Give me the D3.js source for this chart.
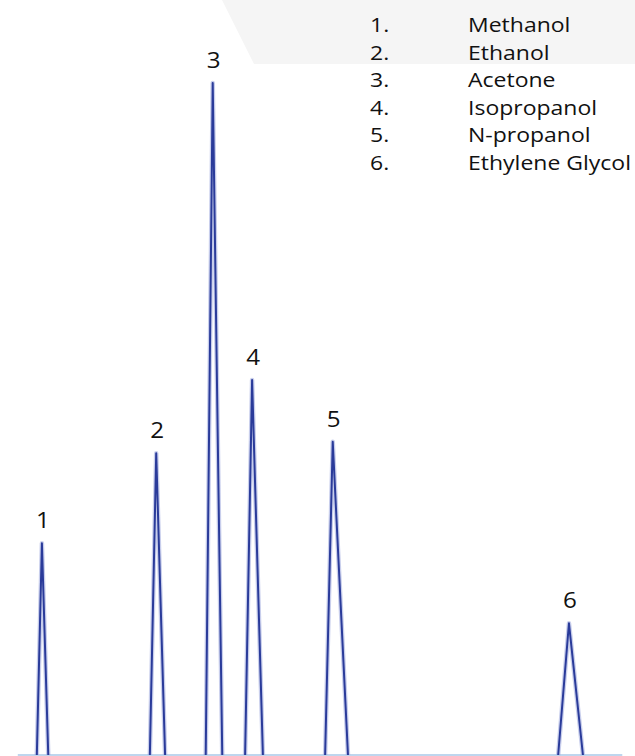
<!DOCTYPE html>
<html>
<head>
<meta charset="utf-8">
<script src="https://cdn.jsdelivr.net/npm/d3@7"></script>
<style>
  body { margin: 0; background: #fff; }
  text { font-family: "Open Sans", "Liberation Sans", sans-serif; fill: #111; }
</style>
</head>
<body>
<div id="plot"></div>
<script>
// Width and height
const w = 635;
const h = 756;

// peak data (retention time in min, relative height in %)
const compounds = ["Methanol", "Ethanol", "Acetone", "Isopropanol", "N-propanol", "Ethylene Glycol"];
const retention = [0.66, 2.46, 3.35, 3.97, 5.24, 8.96];
const peakStart = [0.58, 2.36, 3.24, 3.86, 5.12, 8.79];
const peakEnd = [0.76, 2.60, 3.50, 4.14, 5.48, 9.18];
const heights = [31.5, 44.9, 100, 55.8, 46.6, 19.6];

const peaks = compounds.map((c, i) => ({
  n: i + 1,
  name: c,
  rt: retention[i],
  start: peakStart[i],
  end: peakEnd[i],
  ht: heights[i]
}));

const svg = d3.select("div#plot")
  .append("svg")
    .attr("width", w)
    .attr("height", h);

// background
svg.append("rect")
  .attr("width", w)
  .attr("height", h)
  .attr("fill", "#ffffff");

// faint grey band behind the legend
svg.append("polygon")
  .attr("points", `222,0 ${w},0 ${w},64 254,64`)
  .attr("fill", "#f5f5f5");

const xScale = d3.scaleLinear()
  .domain([0, 10])
  .range([0, w]);

const yScale = d3.scaleLinear()
  .domain([0, 100])
  .range([755, 83]);

// baseline
svg.append("line")
  .attr("x1", xScale(0.28))
  .attr("x2", xScale(9.8))
  .attr("y1", yScale(0))
  .attr("y2", yScale(0))
  .attr("stroke", "#a9c8e8")
  .attr("stroke-width", 1.5);

const line = d3.line()
  .x(d => xScale(d[0]))
  .y(d => yScale(d[1]));

const peakPts = d => [[d.start, 0], [d.rt, d.ht], [d.end, 0]];

// soft halo under each peak
svg.append("g")
  .selectAll("path")
  .data(peaks)
  .enter()
  .append("path")
  .attr("d", d => line(peakPts(d)))
  .attr("fill", "none")
  .attr("stroke", "#9aa6dc")
  .attr("stroke-width", 4.5)
  .attr("stroke-opacity", 0.55)
  .attr("stroke-linejoin", "round");

// peaks
svg.append("g")
  .selectAll("path")
  .data(peaks)
  .enter()
  .append("path")
  .attr("d", d => line(peakPts(d)))
  .attr("fill", "none")
  .attr("stroke", "#2a3b9a")
  .attr("stroke-width", 2)
  .attr("stroke-linejoin", "round");

// peak numbers
svg.append("g")
  .selectAll("text")
  .data(peaks)
  .enter()
  .append("text")
  .attr("transform", d => `translate(${xScale(d.rt) + 1}, ${yScale(d.ht) - 15}) scale(1.1, 1)`)
  .attr("text-anchor", "middle")
  .style("font-size", "22px")
  .text(d => d.n);

// legend
const legend = svg.append("g")
  .attr("transform", "translate(370, 32) scale(1.15, 1)");

legend.selectAll("text.num")
  .data(peaks)
  .enter()
  .append("text")
  .attr("class", "num")
  .attr("x", 0)
  .attr("y", (d, i) => i * 27.6)
  .style("font-size", "20px")
  .text(d => d.n + ".");

legend.selectAll("text.name")
  .data(peaks)
  .enter()
  .append("text")
  .attr("class", "name")
  .attr("x", 98 / 1.15)
  .attr("y", (d, i) => i * 27.6)
  .style("font-size", "20px")
  .text(d => d.name);
</script>
</body>
</html>
